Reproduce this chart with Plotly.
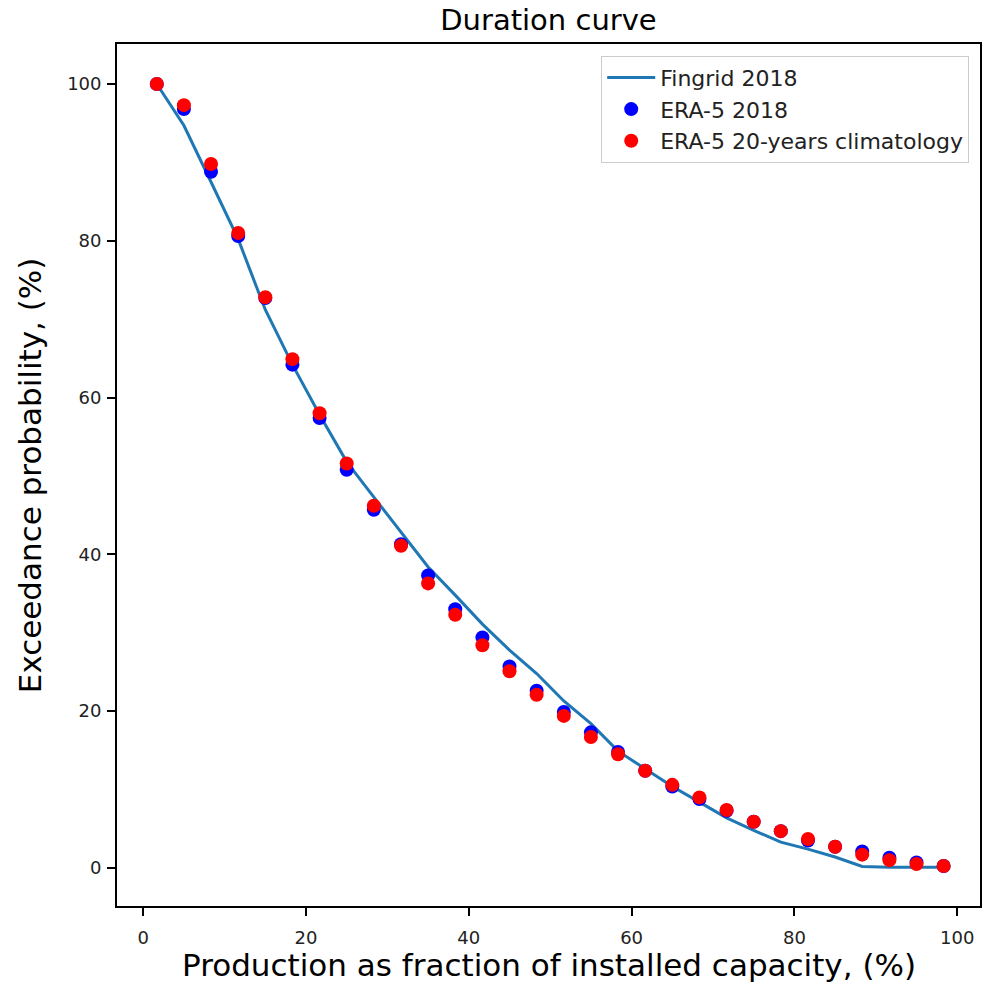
import plotly.graph_objects as go

# Production bins (% of installed capacity)
production = [1.67, 5.0, 8.33, 11.67, 15.0, 18.33, 21.67, 25.0, 28.33, 31.67,
              35.0, 38.33, 41.67, 45.0, 48.33, 51.67, 55.0, 58.33, 61.67, 65.0,
              68.33, 71.67, 75.0, 78.33, 81.67, 85.0, 88.33, 91.67, 95.0, 98.33]

fingrid_2018 = [100, 94.7, 87.5, 80.2, 71.2, 64.2, 57.8, 51.8, 47.3, 42.8,
                38.4, 34.8, 31.1, 27.8, 24.8, 21.3, 18.4, 14.9, 12.6, 10.4,
                8.4, 6.4, 4.8, 3.3, 2.4, 1.4, 0.2, 0.1, 0.1, 0.1]

era5_2018 = [100, 96.8, 88.8, 80.6, 72.7, 64.2, 57.4, 50.8, 45.7, 41.3,
             37.3, 33.0, 29.4, 25.7, 22.6, 19.9, 17.3, 14.8, 12.4, 10.4,
             8.8, 7.3, 5.9, 4.7, 3.5, 2.7, 2.1, 1.3, 0.7, 0.25]

era5_clim = [100, 97.3, 89.8, 81.0, 72.8, 64.9, 58.0, 51.6, 46.2, 41.1,
             36.3, 32.3, 28.4, 25.1, 22.1, 19.4, 16.7, 14.5, 12.4, 10.6,
             9.0, 7.4, 5.9, 4.7, 3.7, 2.7, 1.7, 1.0, 0.5, 0.25]

x_ticks = [0, 20, 40, 60, 80, 100]
y_ticks = [0, 20, 40, 60, 80, 100]

FONT = "DejaVu Sans"

fig = go.Figure()
fig.add_trace(go.Scatter(x=production, y=fingrid_2018, mode="lines",
                         name="Fingrid 2018",
                         line=dict(color="#1f77b4", width=3)))
fig.add_trace(go.Scatter(x=production, y=era5_2018, mode="markers",
                         name="ERA-5 2018",
                         marker=dict(color="blue", size=14, line=dict(width=0))))
fig.add_trace(go.Scatter(x=production, y=era5_clim, mode="markers",
                         name="ERA-5 20-years climatology",
                         marker=dict(color="red", size=14, line=dict(width=0))))

axis_common = dict(showgrid=False, zeroline=False, showline=True,
                   linecolor="black", linewidth=1.8, ticks="outside",
                   ticklen=8, tickwidth=1.5, tickcolor="black", mirror=True,
                   tickfont=dict(family=FONT, size=18, color="#222"))

fig.update_layout(
    width=983, height=983,
    margin=dict(l=117, r=1, t=44, b=77),
    paper_bgcolor="white", plot_bgcolor="white",
    font=dict(family=FONT, color="black"),
    title=dict(text="Duration curve", x=0.5, xref="paper", xanchor="center",
               y=1 - 20 / 983, yref="container", yanchor="middle",
               font=dict(family=FONT, size=29, color="black")),
    xaxis=dict(range=[-3.22, 102.8], tickvals=x_ticks,
               ticklabelstandoff=6, **axis_common),
    yaxis=dict(range=[-4.85, 105.1], tickvals=y_ticks,
               ticklabelstandoff=2, **axis_common),
    legend=dict(x=0.9875, y=0.9864, xanchor="right", yanchor="top",
                bgcolor="white", bordercolor="#cccccc", borderwidth=1,
                font=dict(family=FONT, size=22, color="#222"),
                itemwidth=48),
    showlegend=True,
)

fig.add_annotation(text="Production as fraction of installed capacity, (%)",
                   xref="paper", yref="paper", x=0.5, y=(906 - 965) / 862,
                   xanchor="center", yanchor="middle", showarrow=False,
                   font=dict(family=FONT, size=31, color="black"))
fig.add_annotation(text="Exceedance probability, (%)",
                   xref="paper", yref="paper", x=(30 - 117) / 865, y=0.5,
                   xanchor="center", yanchor="middle", showarrow=False,
                   textangle=-90,
                   font=dict(family=FONT, size=31, color="black"))

fig.write_html("out.html")
